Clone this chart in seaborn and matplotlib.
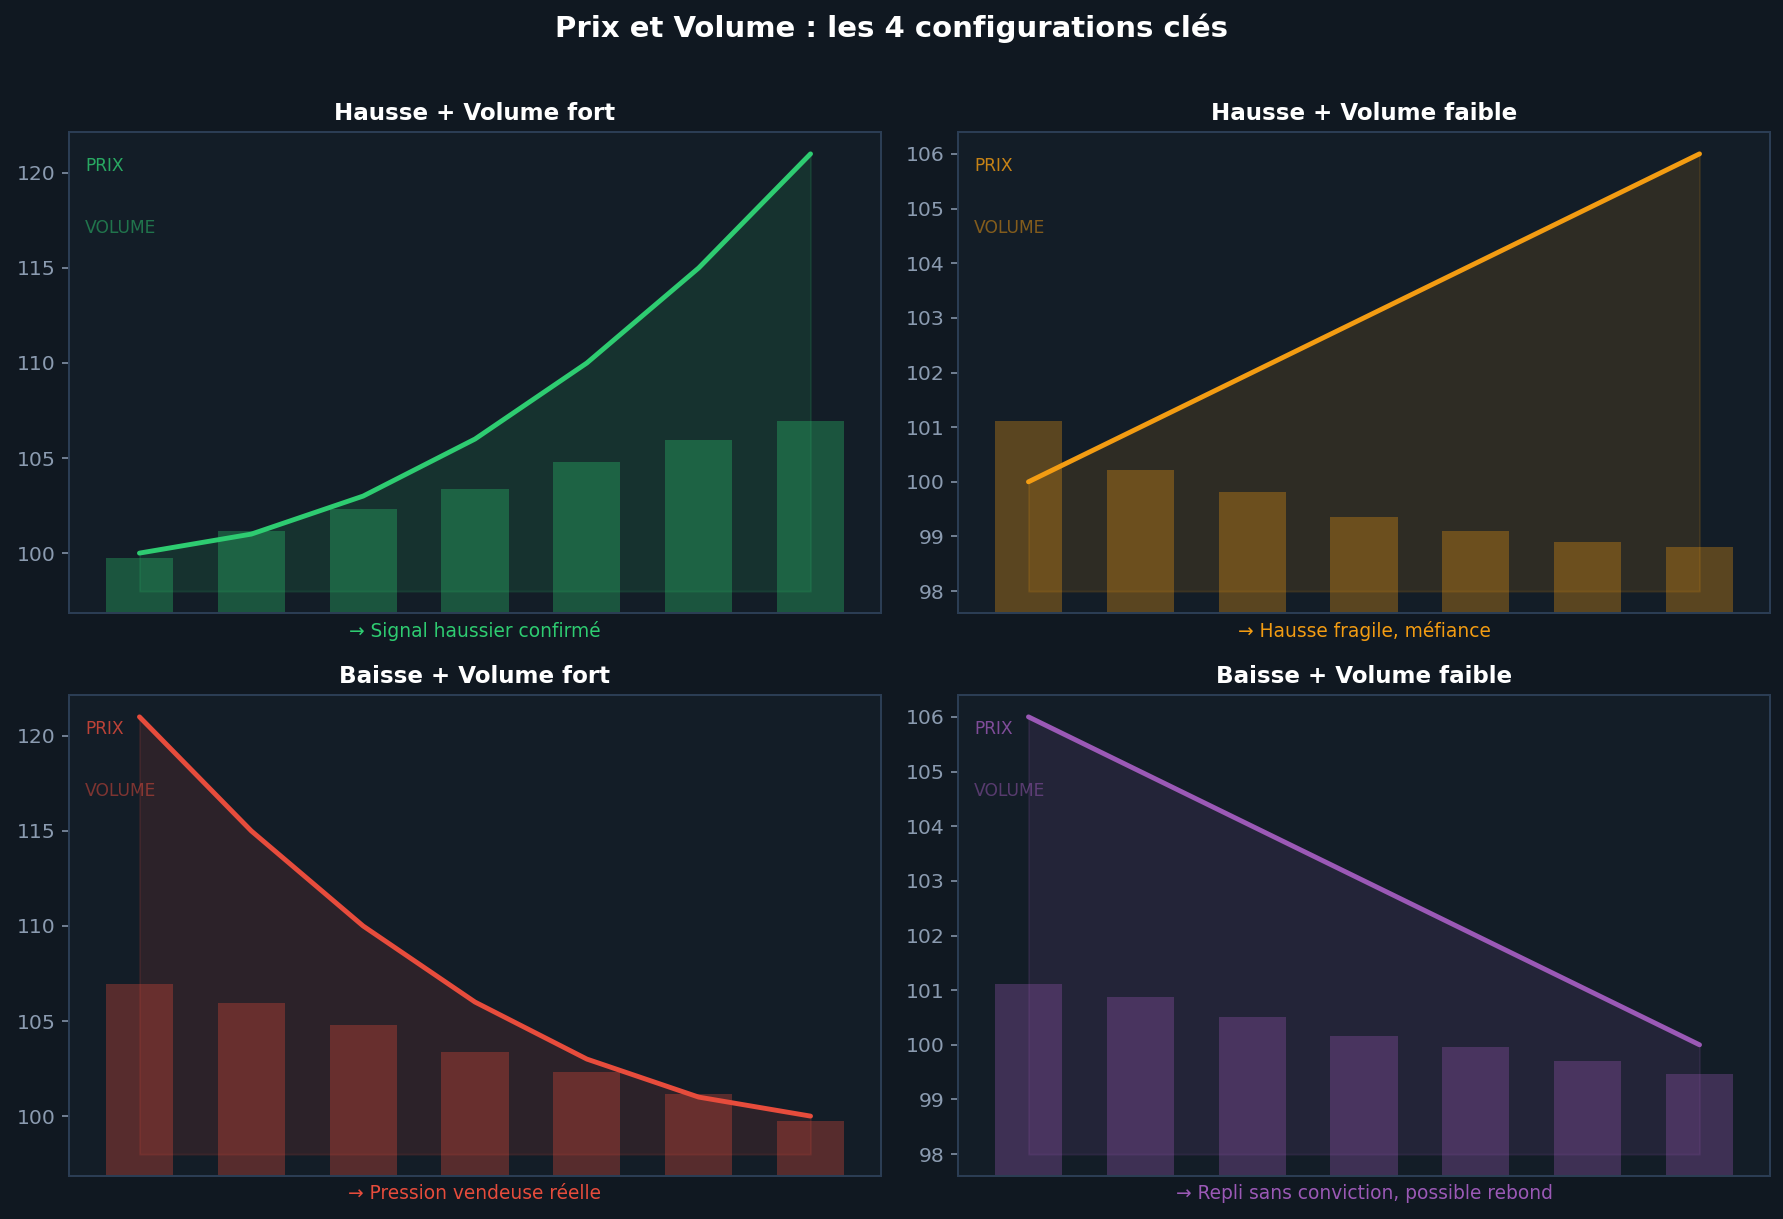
import matplotlib
matplotlib.use("Agg")
import matplotlib.pyplot as plt
import numpy as np
import seaborn as sns

sns.set_style("dark")
plt.rcParams['font.family'] = ['DejaVu Sans']

# couleurs
BG = '#101821'
PANEL = '#131d27'
SPINE = '#2c3e55'
TICK = '#8b9bb0'

# données
steps = np.arange(7)
titles = ["Hausse + Volume fort", "Hausse + Volume faible",
          "Baisse + Volume fort", "Baisse + Volume faible"]
notes = ["→ Signal haussier confirmé", "→ Hausse fragile, méfiance",
         "→ Pression vendeuse réelle", "→ Repli sans conviction, possible rebond"]
colors = ['#2ecc71', '#f39c12', '#e74c3c', '#9b59b6']

price_up_strong = [100, 101, 103, 106, 110, 115, 121]
price_up_weak = [100, 101, 102, 103, 104, 105, 106]
price_down_strong = [121, 115, 110, 106, 103, 101, 100]
price_down_weak = [106, 105, 104, 103, 102, 101, 100]

vol_up_strong = [1000, 1500, 1900, 2250, 2750, 3150, 3500]
vol_up_weak = [3500, 2600, 2200, 1750, 1500, 1300, 1200]
vol_down_strong = [3500, 3150, 2750, 2250, 1900, 1500, 1000]
vol_down_weak = [3500, 3250, 2900, 2550, 2350, 2100, 1850]

prices = [price_up_strong, price_up_weak, price_down_strong, price_down_weak]
volumes = [vol_up_strong, vol_up_weak, vol_down_strong, vol_down_weak]

W, H = 1784, 1219
fig = plt.figure(figsize=(W / 140, H / 140), dpi=140, facecolor=BG)

# positions des 4 panneaux (pixels)
lefts = [69, 958]
tops = [132, 695]
aw, ah = 812, 481

for k in range(4):
    r, c = divmod(k, 2)
    rect = [lefts[c] / W, 1 - (tops[r] + ah) / H, aw / W, ah / H]
    ax = fig.add_axes(rect)
    ax2 = ax.twinx()
    col = colors[k]

    # volume en arrière-plan
    ax2.bar(steps, volumes[k], width=0.6, color=col, alpha=0.32,
            edgecolor='none', linewidth=0)
    ax2.set_ylim(0, max(volumes[k]) * 2.5)
    ax2.set_yticks([])
    ax2.patch.set_visible(True)
    ax2.set_facecolor(PANEL)

    # prix au premier plan
    ax.set_zorder(ax2.get_zorder() + 1)
    ax.patch.set_visible(False)
    sns.lineplot(x=steps, y=prices[k], ax=ax, color=col, linewidth=2.5)
    ax.fill_between(steps, prices[k], min(prices[k]) - 2, color=col, alpha=0.12)

    ax.set_title(titles[k], color='white', fontsize=11.8, fontweight='bold')
    ax.set_xticks([])
    ax.set_xlabel(notes[k], color=col, fontsize=9.6)
    ax.set_ylabel('')
    ax.tick_params(axis='y', colors=TICK, labelsize=10.5)
    for a in (ax, ax2):
        for s in a.spines.values():
            s.set_color(SPINE)
            s.set_linewidth(1)

    ax.text(0.02, 0.93, 'PRIX', transform=ax.transAxes, color=col, alpha=0.8,
            fontsize=8.8, va='center')
    ax.text(0.02, 0.80, 'VOLUME', transform=ax.transAxes, color=col, alpha=0.5,
            fontsize=8.8, va='center')

fig.text(0.5, 1 - 28 / H, "Prix et Volume : les 4 configurations clés",
         color='white', fontsize=15, fontweight='bold', ha='center', va='center')

plt.savefig('out.png', dpi=140, facecolor=BG)
